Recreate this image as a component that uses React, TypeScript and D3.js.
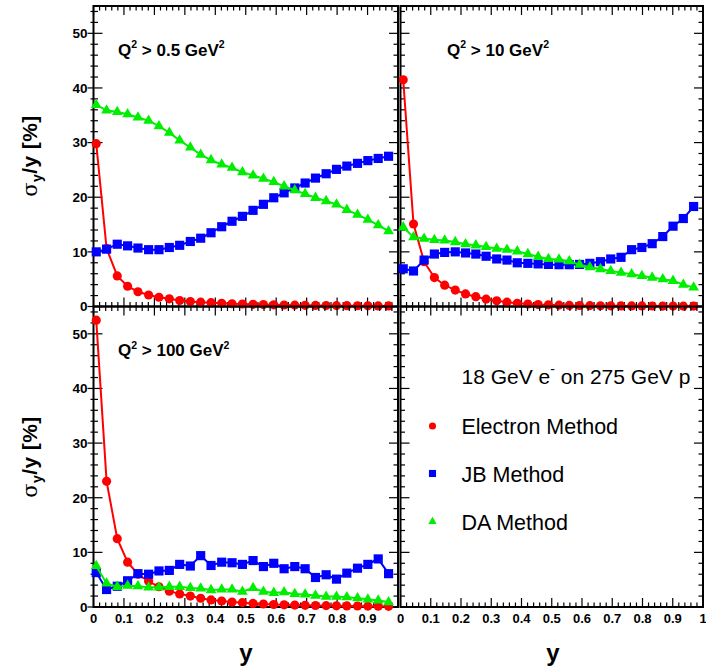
import React from 'react';
import * as d3 from 'd3';

// ---- data ----
const yBins = [0.009, 0.043, 0.078, 0.112, 0.146, 0.181, 0.215, 0.249, 0.283, 0.318, 0.352, 0.386, 0.421, 0.455, 0.489, 0.524, 0.558, 0.592, 0.626, 0.661, 0.695, 0.729, 0.764, 0.798, 0.832, 0.867, 0.901, 0.935, 0.969];

const q05Electron = [29.8, 10.6, 5.6, 3.7, 2.7, 2.1, 1.7, 1.4, 1.1, 0.9, 0.8, 0.7, 0.6, 0.5, 0.45, 0.4, 0.35, 0.3, 0.28, 0.25, 0.22, 0.2, 0.18, 0.16, 0.15, 0.13, 0.12, 0.11, 0.1];
const q05JB = [10.0, 10.5, 11.4, 11.1, 10.7, 10.4, 10.4, 10.8, 11.2, 11.9, 12.5, 13.5, 14.6, 15.6, 16.5, 17.6, 18.7, 19.9, 20.8, 21.7, 22.6, 23.5, 24.3, 25.1, 25.7, 26.2, 26.7, 27.1, 27.5];
const q05DA = [36.9, 35.9, 35.6, 35.2, 34.6, 34.0, 33.0, 31.8, 30.4, 29.1, 27.8, 26.8, 26.0, 25.4, 24.6, 24.0, 23.4, 22.8, 22.0, 21.3, 20.6, 19.9, 19.3, 18.7, 17.7, 16.8, 15.9, 14.9, 13.8];

const q10Electron = [41.5, 15.1, 8.2, 5.3, 3.9, 3.0, 2.3, 1.8, 1.35, 1.05, 0.8, 0.6, 0.45, 0.35, 0.3, 0.25, 0.2, 0.18, 0.16, 0.14, 0.12, 0.11, 0.1, 0.1, 0.09, 0.08, 0.08, 0.07, 0.07];
const q10JB = [6.9, 6.5, 8.5, 9.6, 9.9, 10.0, 9.8, 9.6, 9.2, 8.7, 8.5, 8.0, 7.9, 7.8, 7.7, 7.65, 7.65, 7.7, 7.9, 8.2, 8.7, 9.0, 10.4, 10.8, 11.5, 12.8, 14.7, 16.1, 18.3];
const q10DA = [14.5, 12.7, 12.4, 12.2, 12.1, 11.8, 11.4, 11.2, 10.9, 10.6, 10.4, 10.1, 9.6, 9.1, 8.7, 8.6, 8.3, 7.65, 7.2, 6.85, 6.5, 6.2, 5.9, 5.6, 5.3, 5.0, 4.7, 4.0, 3.5];

const q100Electron = [52.5, 23.0, 12.5, 8.2, 6.0, 4.7, 3.7, 2.9, 2.4, 2.0, 1.6, 1.3, 1.1, 0.9, 0.8, 0.65, 0.55, 0.45, 0.4, 0.35, 0.3, 0.28, 0.25, 0.22, 0.2, 0.18, 0.16, 0.14, 0.12];
const q100JB = [6.3, 3.2, 3.8, 4.8, 6.1, 6.0, 6.6, 6.7, 7.8, 7.5, 9.4, 7.6, 8.2, 8.1, 7.8, 8.5, 7.4, 8.0, 7.0, 7.4, 7.0, 5.4, 5.9, 5.1, 6.2, 7.1, 7.8, 8.8, 6.1];
const q100DA = [7.5, 4.3, 3.7, 3.9, 3.8, 3.6, 3.6, 3.7, 3.7, 3.5, 3.4, 3.1, 3.2, 3.2, 2.8, 3.5, 2.8, 2.6, 2.7, 2.4, 2.3, 2.1, 1.9, 1.9, 1.8, 1.6, 1.4, 1.2, 0.9];

const xMajorTicks = [0, 0.1, 0.2, 0.3, 0.4, 0.5, 0.6, 0.7, 0.8, 0.9, 1.0];
const xTickLabels = ['0', '0.1', '0.2', '0.3', '0.4', '0.5', '0.6', '0.7', '0.8', '0.9', '1'];
const yMajorTicks = [0, 10, 20, 30, 40, 50];
const methodNames = ['Electron Method', 'JB Method', 'DA Method'];
const methodColors = ['#ff0000', '#0000ff', '#00ee00'];
const panelTitles = ['0.5', '10', '100'];

const FONT = "'Liberation Sans', Arial, Helvetica, sans-serif";
const xMinor = d3.range(0, 1.0001, 0.02);
const yMinor = d3.range(0, 55, 2);

type Panel = {
  x0: number; x1: number; y0: number; y1: number;
  series: number[][] | null; title: string | null;
  leftOuter: boolean; yLabels: boolean; xLabels: boolean; skipLastX: boolean;
};

const panels: Panel[] = [
  { x0: 93.5, x1: 398, y0: 6, y1: 306.5, series: [q05Electron, q05JB, q05DA], title: panelTitles[0], leftOuter: true, yLabels: true, xLabels: false, skipLastX: true },
  { x0: 400.5, x1: 703, y0: 6, y1: 306.5, series: [q10Electron, q10JB, q10DA], title: panelTitles[1], leftOuter: false, yLabels: false, xLabels: false, skipLastX: false },
  { x0: 93.5, x1: 398, y0: 306.5, y1: 607, series: [q100Electron, q100JB, q100DA], title: panelTitles[2], leftOuter: true, yLabels: true, xLabels: true, skipLastX: true },
  { x0: 400.5, x1: 703, y0: 306.5, y1: 607, series: null, title: null, leftOuter: false, yLabels: false, xLabels: true, skipLastX: false },
];

const symCircle = d3.symbol().type(d3.symbolCircle);
const symSquare = d3.symbol().type(d3.symbolSquare);
const symTri = d3.symbol().type(d3.symbolTriangle);

function Marker({ kind, x, y, color, scale = 1 }: { kind: number; x: number; y: number; color: string; scale?: number }) {
  let d = '';
  if (kind === 0) d = symCircle.size(66 * scale)() as string;
  else if (kind === 1) d = symSquare.size(84 * scale)() as string;
  else d = symTri.size(50 * scale)() as string;
  return <path d={d} transform={`translate(${x},${y})`} fill={color} />;
}

function PanelView({ p }: { p: Panel }) {
  const xs = d3.scaleLinear().domain([0, 1]).range([p.x0, p.x1]);
  const ys = d3.scaleLinear().domain([0, 55]).range([p.y1, p.y0]);
  const isMajorX = (v: number) => Math.abs(v * 10 - Math.round(v * 10)) < 1e-6;
  const isMajorY = (v: number) => v % 10 === 0;
  const ticks: JSX.Element[] = [];
  xMinor.forEach((v, i) => {
    const L = isMajorX(v) ? 9 : 4.5;
    const x = xs(v);
    ticks.push(<line key={'b' + i} x1={x} x2={x} y1={p.y1} y2={p.y1 - L} />);
    ticks.push(<line key={'t' + i} x1={x} x2={x} y1={p.y0} y2={p.y0 + L} />);
  });
  yMinor.forEach((v, i) => {
    const L = isMajorY(v) ? 9 : 4.5;
    const y = ys(v);
    const out = p.leftOuter ? (isMajorY(v) ? 6 : 3) : 0;
    ticks.push(<line key={'l' + i} x1={p.x0 - out} x2={p.x0 + L} y1={y} y2={y} />);
    ticks.push(<line key={'r' + i} x1={p.x1} x2={p.x1 - L} y1={y} y2={y} />);
  });
  const line = d3.line<number>().x((_, i) => xs(yBins[i])).y(v => ys(v));
  return (
    <g>
      <rect x={p.x0} y={p.y0} width={p.x1 - p.x0} height={p.y1 - p.y0} fill="none" stroke="#000" strokeWidth={2} />
      <g stroke="#000" strokeWidth={1.2}>{ticks}</g>
      {p.yLabels && yMajorTicks.map(v => (
        <text key={'yl' + v} x={p.x0 - 6} y={ys(v)} dy="0.36em" textAnchor="end" fontFamily={FONT} fontWeight="bold" fontSize={13.5}>{v}</text>
      ))}
      {p.xLabels && xMajorTicks.map((v, i) => (p.skipLastX && i === xMajorTicks.length - 1) ? null : (
        <text key={'xl' + i} x={xs(v)} y={p.y1 + 16} textAnchor="middle" fontFamily={FONT} fontWeight="bold" fontSize={13}>{xTickLabels[i]}</text>
      ))}
      {p.series && p.series.map((s, k) => (
        <g key={'s' + k}>
          <path d={line(s) as string} fill="none" stroke={methodColors[k]} strokeWidth={2} />
          {s.map((v, i) => <Marker key={i} kind={k} x={xs(yBins[i])} y={ys(v)} color={methodColors[k]} />)}
        </g>
      ))}
      {p.title && (
        <text x={p.x0 + (p.leftOuter ? 24.5 : 46.5)} y={p.y0 + 49.5} fontFamily={FONT} fontWeight="bold" fontSize={17}>
          Q<tspan fontSize={10.5} dy={-7.5}>2</tspan><tspan dy={7.5}> &gt; {p.title} GeV</tspan><tspan fontSize={10.5} dy={-7.5}>2</tspan>
        </text>
      )}
    </g>
  );
}

function YTitle({ cx, cy }: { cx: number; cy: number }) {
  return (
    <text transform={`translate(${cx},${cy}) rotate(-90)`} textAnchor="middle" fontFamily={FONT} fontWeight="bold" fontSize={21} letterSpacing={0.4}>
      <tspan fontFamily="'DejaVu Serif', serif" fontWeight="normal">σ</tspan>
      <tspan fontSize={14} dy={5}>y</tspan>
      <tspan dy={-5}>/y [%]</tspan>
    </text>
  );
}

export default function App() {
  const legendY = [426, 473.5, 521.5];
  const legendBase = [433.5, 481.5, 529.5];
  return (
    <svg width={706} height={670} style={{ position: 'absolute', left: 0, top: 0, background: '#fff' }}>
      <rect x={0} y={0} width={706} height={670} fill="#fff" />
      {panels.map((p, i) => <PanelView key={i} p={p} />)}
      <YTitle cx={37} cy={156} />
      <YTitle cx={37} cy={457} />
      <text x={246} y={661} textAnchor="middle" fontFamily={FONT} fontWeight="bold" fontSize={24}>y</text>
      <text x={553} y={661} textAnchor="middle" fontFamily={FONT} fontWeight="bold" fontSize={24}>y</text>
      <text x={461.5} y={383.5} fontFamily={FONT} fontSize={21}>
        18 GeV e<tspan fontSize={14} dy={-9.5}>-</tspan><tspan dy={9.5}> on 275 GeV p</tspan>
      </text>
      {methodNames.map((n, k) => (
        <g key={n}>
          <Marker kind={k} x={432.5} y={legendY[k]} color={methodColors[k]} scale={0.6} />
          <text x={461.5} y={legendBase[k]} fontFamily={FONT} fontSize={21.5}>{n}</text>
        </g>
      ))}
    </svg>
  );
}
